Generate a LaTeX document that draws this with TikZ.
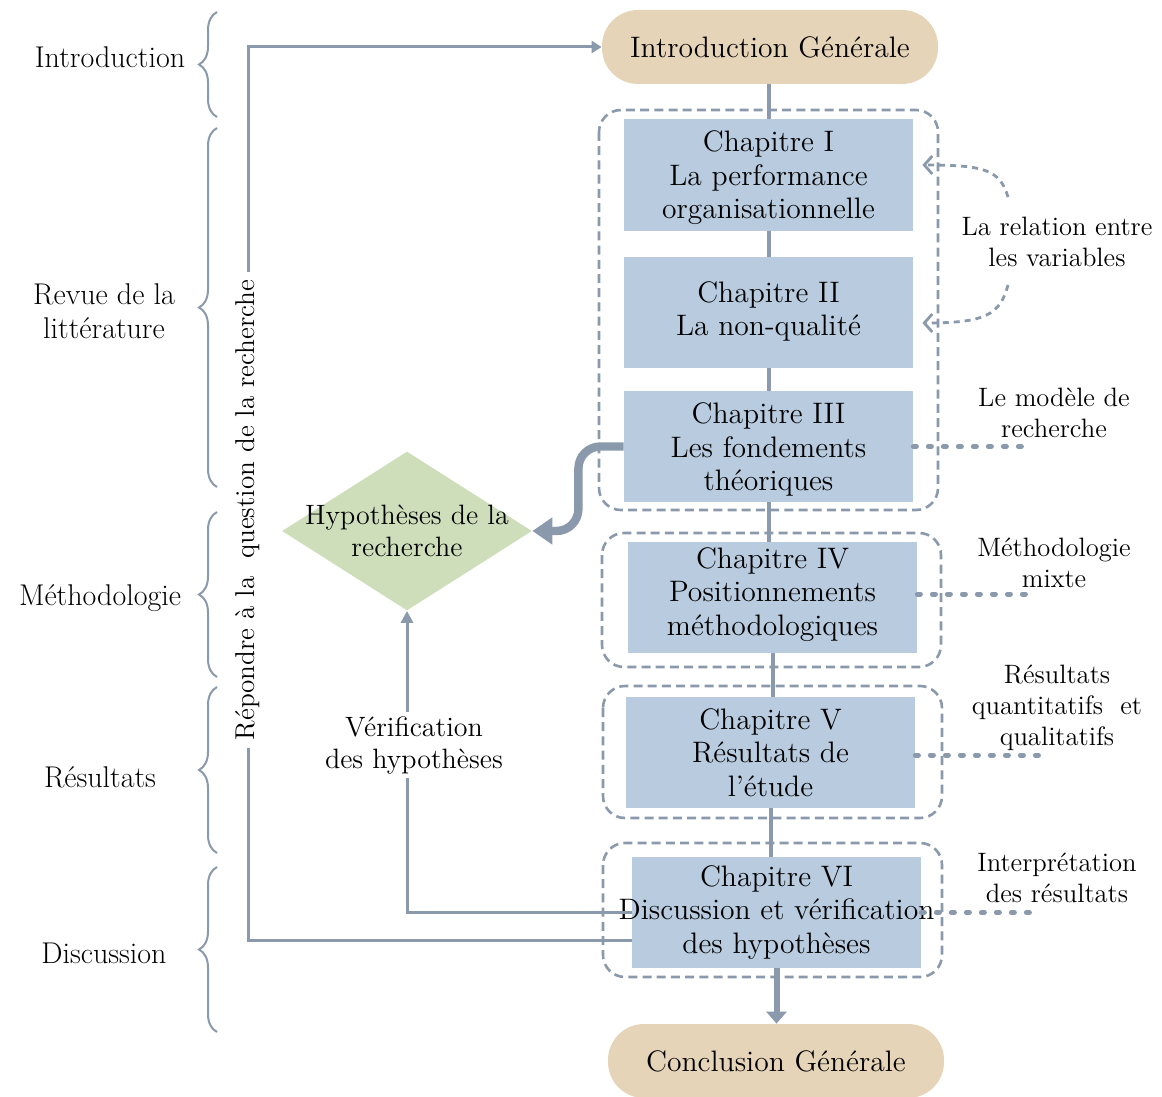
\documentclass[tikz,border=0pt]{standalone}
\usetikzlibrary{arrows.meta,decorations.pathreplacing,shapes.geometric}

\definecolor{linegray}{HTML}{8A99AB}
\definecolor{boxblue}{HTML}{B8CBDF}
\definecolor{tanfill}{HTML}{E6D4B9}
\definecolor{sagefill}{HTML}{CEDEBA}

\tikzset{
  chapbox/.style={fill=boxblue, minimum width=144.5pt, minimum height=55.5pt, inner sep=0pt},
  chaptext/.style={align=center, inner sep=0pt},
  pillbox/.style={fill=tanfill, rounded corners=18pt, minimum width=168pt, minimum height=37pt, inner sep=0pt},
  grpbox/.style={draw=linegray, line width=1.3pt, dash pattern=on 4.5pt off 2.6pt, rounded corners=11pt},
  spineline/.style={draw=linegray, line width=2pt},
  connline/.style={draw=linegray, line width=1.5pt},
  dotline/.style={draw=linegray, line width=2.5pt, line cap=round, dash pattern=on 1.5pt off 6pt},
  curvline/.style={draw=linegray, line width=1.4pt, dash pattern=on 3pt off 2.5pt},
  bracepath/.style={draw=linegray, line width=1pt, decorate, decoration={brace, amplitude=9pt}},
  sidelabel/.style={align=center, font=\fontsize{15}{17}\selectfont},
  notelabel/.style={align=center, font=\fontsize{13.3}{15.5}\selectfont},
}

\begin{document}
\begin{tikzpicture}[x=0.5pt, y=-0.5pt, font=\fontsize{14.8}{16.8}\selectfont]
\useasboundingbox (0,0) rectangle (1162,1097);

% dashed groups around the chapters
\draw[grpbox] (599,110) rectangle (938,510);
\draw[grpbox] (602,533) rectangle (941,667);
\draw[grpbox] (603,686) rectangle (942,818);
\draw[grpbox] (603,843) rectangle (942,977);

% start and end
\node[pillbox] (intro) at (770,47) {Introduction Générale};
\node[pillbox] (concl) at (776,1061) {Conclusion Générale};

% chapter boxes
\node[chapbox] (ch1) at (768.5,175) {};
\node[chapbox] (ch2) at (768.5,312.5) {};
\node[chapbox] (ch3) at (768.5,446.5) {};
\node[chapbox] (ch4) at (772.5,597.5) {};
\node[chapbox] (ch5) at (770.5,752.5) {};
\node[chapbox] (ch6) at (776.5,912.5) {};

% spine
\draw[spineline] (ch1.north) -- (ch1.north |- intro.south);
\draw[spineline] (ch1.south) -- (ch2.north);
\draw[spineline] (ch2.south) -- (ch3.north);
\draw[spineline] (ch3.south) -- (ch3.south |- ch4.north);
\draw[spineline] (ch4.south) -- (ch4.south |- ch5.north);
\draw[spineline] (ch5.south) -- (ch5.south |- ch6.north);
\draw[draw=linegray, line width=3pt, -{Triangle[length=6pt,width=10pt]}]
  (ch6.south) -- (ch6.south |- concl.north);

% chapter texts
\node[chaptext] (ch1t) at ([yshift=-1.5pt]ch1) {Chapitre I\\La performance\\organisationnelle};
\node[chaptext] (ch2t) at ([yshift=0.5pt]ch2) {Chapitre II\\La non-qualité};
\node[chaptext] (ch3t) at ([yshift=-1.5pt]ch3) {Chapitre III\\Les fondements\\théoriques};
\node[chaptext] (ch4t) at ([yshift=1.5pt]ch4) {Chapitre IV\\Positionnements\\méthodologiques};
\node[chaptext] (ch5t) at (ch5) {Chapitre V\\Résultats de\\l'étude};
\node[chaptext] (ch6t) at (ch6) {Chapitre VI\\Discussion et vérification\\des hypothèses};

% hypotheses diamond
\node[diamond, fill=sagefill, minimum width=125pt, minimum height=79.5pt, inner sep=0pt] (hyp) at (407,531) {};
\node[align=center, inner sep=0pt, font=\fontsize{14}{16}\selectfont] (hypt) at (hyp) {Hypothèses de la\\recherche};

% thick arrow from chapter III to the hypotheses
\draw[draw=linegray, line width=4.2pt, rounded corners=11pt, -{Triangle[length=10pt,width=13pt]}]
  (ch3.west) -| ([xshift=23pt]hyp.east) -- (hyp.east);

% verification of hypotheses
\draw[connline, -{Triangle[length=6pt,width=6pt]}] (ch6.west) -| (hyp.south);
\node[fill=white, align=center, inner sep=2pt, font=\fontsize{14}{16}\selectfont] (verif) at (414,745) {Vérification\\des hypothèses};

% answering the research question
\coordinate (qx) at (248,0);
\draw[connline, -{Triangle[length=5pt,width=6pt]}]
  ([yshift=-13.75pt]ch6.west) -| (intro.west -| qx) -- (intro.west);
\node[fill=white, rotate=90, inner sep=4pt, font=\fontsize{13.6}{16}\selectfont] (rep) at (248,510) {Répondre à la\ \ question de la recherche};

% side notes with dotted leaders
\draw[dotline] (ch3.east) -- ++(112,0);
\draw[dotline] ([yshift=1.75pt]ch4.east) -- ++(111,0);
\draw[dotline] ([yshift=-1.25pt]ch5.east) -- ++(123,0);
\draw[dotline] (ch6.east) -- ++(117,0);

\node[notelabel] (n1) at (1057,242) {La relation entre\\les variables};
\node[notelabel] (n2) at (1054,413) {Le modèle de\\recherche};
\node[notelabel] (n3) at (1054,563) {Méthodologie\\mixte};
\node[notelabel] (n4) at (1057,708) {Résultats\\quantitatifs\ \ et\\qualitatifs};
\node[notelabel] (n5) at (1057,878) {Interprétation\\des résultats};

% curved arrows for the relation between variables
\coordinate (rv1) at (1008,197);
\coordinate (rv2) at (1008,285);
\draw[curvline, -{Straight Barb[length=4pt,width=9pt]}]
  (rv1) .. controls (1000,170) and (985,165) .. ([xshift=4.5pt,yshift=5pt]ch1.east);
\draw[curvline, -{Straight Barb[length=4pt,width=9pt]}]
  (rv2) .. controls (1000,315) and (985,323) .. ([xshift=4.5pt,yshift=-5.25pt]ch2.east);

% parts of the thesis
\draw[bracepath] (217,117) -- (217,12);
\draw[bracepath] (217,487) -- (217,128);
\draw[bracepath] (217,677) -- (217,512);
\draw[bracepath] (217,853) -- (217,687);
\draw[bracepath] (217,1032) -- (217,867);

\node[sidelabel] (p1) at (110,57) {Introduction};
\node[sidelabel] (p2) at (104,311) {Revue de la\\littérature};
\node[sidelabel] (p3) at (100,598) {Méthodologie};
\node[sidelabel] (p4) at (100,777) {Résultats};
\node[sidelabel] (p5) at (104,953) {Discussion};
\end{tikzpicture}
\end{document}
